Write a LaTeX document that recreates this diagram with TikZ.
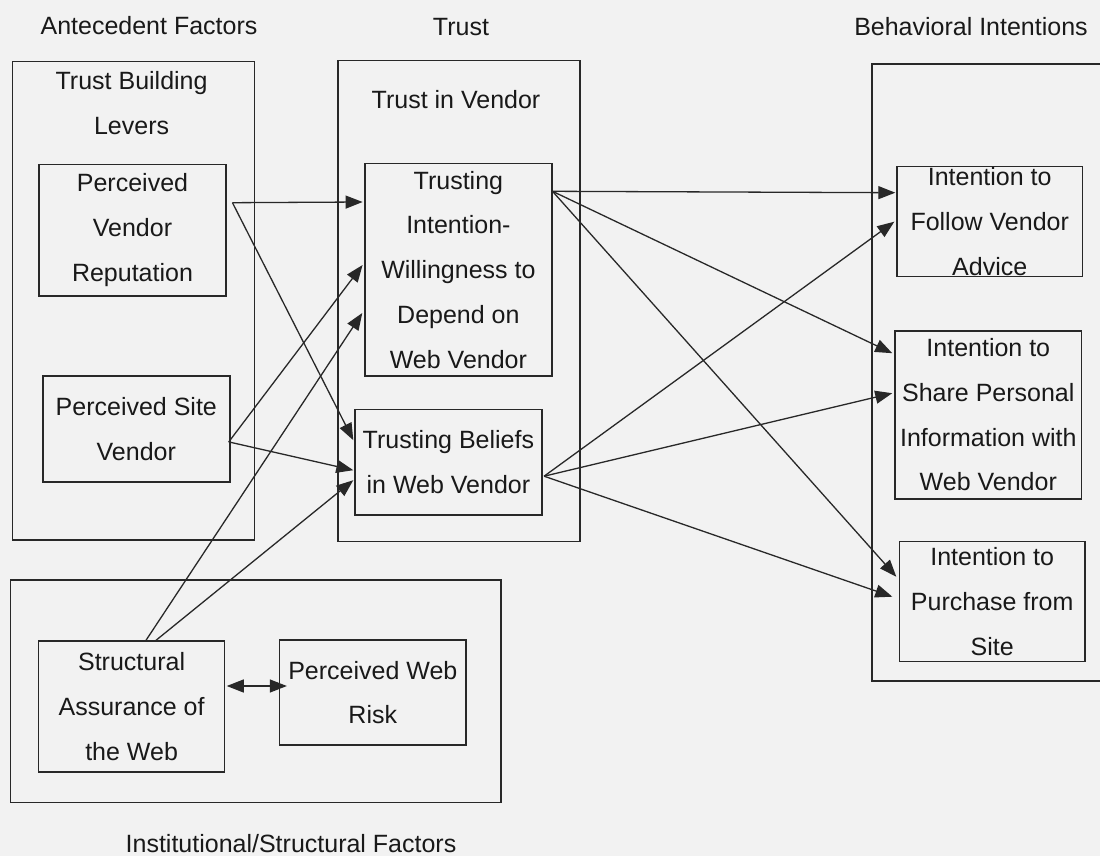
\documentclass[tikz,border=0pt]{standalone}
\usepackage{fontspec}
\setmainfont{Liberation Sans}
\usetikzlibrary{arrows.meta}
\definecolor{paper}{RGB}{242,242,242}
\definecolor{ink}{RGB}{25,25,25}
\definecolor{edge}{RGB}{40,40,40}
\begin{document}
\begin{tikzpicture}[x=1pt,y=-1pt,
  every node/.style={font=\fontsize{25}{44.7}\selectfont, text=ink},
  box/.style={draw=edge, line width=1.5pt, inner sep=0pt, align=center},
  group/.style={draw=edge, line width=1.5pt, inner sep=0pt},
  label/.style={inner sep=0pt, align=center},
  tip/.tip={Triangle[length=17pt,width=13pt]},
  conn/.style={draw=edge, line width=1.3pt, -tip},
  both/.style={draw=edge, line width=1.3pt, tip-tip}]
  % canvas
  \fill[paper] (0,0) rectangle (1100,856);
  \useasboundingbox (0,0) rectangle (1100,856);

  % column headings
  \node[label, anchor=base] (hA) at (149,35) {Antecedent Factors};
  \node[label, anchor=base] (hT) at (461,36) {Trust};
  \node[label, anchor=base] (hB) at (971,35.7) {Behavioral Intentions};
  \node[label, anchor=base] (hI) at (291,852.3) {Institutional/Structural Factors};

  % grouping frames
  \node[group, minimum width=242pt, minimum height=478.3pt] (ante) at (133.3,300.9) {};
  \node[group, minimum width=242pt, minimum height=481pt] (trust) at (459,301.2) {};
  \node[group, minimum width=234.3pt, minimum height=617pt] (behav) at (988.9,372.5) {};
  \node[group, minimum width=490.5pt, minimum height=222.3pt] (inst) at (255.8,691.2) {};

  \node[label] (tbl) at (131.6,103) {Trust Building\\Levers};
  \node[label, anchor=base] (tiv) at (456,109) {Trust in Vendor};

  % constructs
  \node[box, minimum width=187pt, minimum height=131.7pt] (pvr) at (132.5,230.2) {Perceived\\Vendor\\Reputation};
  \node[box, minimum width=187pt, minimum height=105.7pt] (psv) at (136.3,428.9) {Perceived Site\\Vendor};
  \node[box, minimum width=186.7pt, minimum height=212.7pt] (ti) at (458.4,269.7) {Trusting\\Intention-\\Willingness to\\Depend on\\Web Vendor};
  \node[box, minimum width=186.7pt, minimum height=105.7pt] (tb) at (448.4,462.2) {Trusting Beliefs\\in Web Vendor};
  \node[box, minimum width=185.9pt, minimum height=110pt] (fol) at (989.7,221.7) {Intention to\\Follow Vendor\\Advice};
  \node[box, minimum width=186.6pt, minimum height=168.3pt] (sha) at (988.3,414.9) {Intention to\\Share Personal\\Information with\\Web Vendor};
  \node[box, minimum width=185.7pt, minimum height=120pt] (pur) at (992.2,601.7) {Intention to\\Purchase from\\Site};
  \node[box, minimum width=186pt, minimum height=130.7pt] (sa) at (131.6,706.4) {Structural\\Assurance of\\the Web};
  \node[box, minimum width=186.4pt, minimum height=105pt] (pwr) at (372.8,692.5) {Perceived Web\\Risk};

  % antecedents -> trust
  \draw[conn] ([xshift=5.7pt,yshift=27.5pt]pvr.east) -- ([xshift=-1.7pt,yshift=67.7pt]ti.west);
  \draw[conn] ([xshift=5.7pt,yshift=27.5pt]pvr.east) -- ([xshift=-1pt,yshift=22pt]tb.west);
  \draw[conn] ([xshift=-1.8pt,yshift=-13pt]psv.east) -- ([xshift=-1.7pt,yshift=4.7pt]ti.west);
  \draw[conn] ([xshift=-1.8pt,yshift=-13pt]psv.east) -- ([xshift=-1pt,yshift=-8pt]tb.west);
  \draw[conn] ([xshift=14.4pt]sa.north) -- ([xshift=-2pt,yshift=-43.3pt]ti.west);
  \draw[conn] ([xshift=24.4pt]sa.north) -- ([xshift=-1pt,yshift=-18pt]tb.west);

  % trust -> intentions
  \draw[conn] ([yshift=-28.7pt]ti.north east) -- ([xshift=-0.7pt,yshift=29pt]fol.west);
  \draw[conn] ([yshift=-28.7pt]ti.north east) -- ([xshift=-2pt,yshift=61.7pt]sha.west);
  \draw[conn] ([yshift=-28.7pt]ti.north east) -- ([xshift=-2.3pt,yshift=25pt]pur.west);
  \draw[conn] ([xshift=1.6pt,yshift=-14pt]tb.east) -- ([xshift=-1.7pt]fol.west);
  \draw[conn] ([xshift=1.6pt,yshift=-14pt]tb.east) -- ([xshift=-2pt,yshift=21.7pt]sha.west);
  \draw[conn] ([xshift=1.6pt,yshift=-14pt]tb.east) -- ([xshift=-6.3pt,yshift=5pt]pur.west);

  % institutional factors
  \draw[both] ([xshift=1.4pt,yshift=20.4pt]sa.east) -- ([xshift=8pt,yshift=6.5pt]pwr.west);
\end{tikzpicture}
\end{document}
